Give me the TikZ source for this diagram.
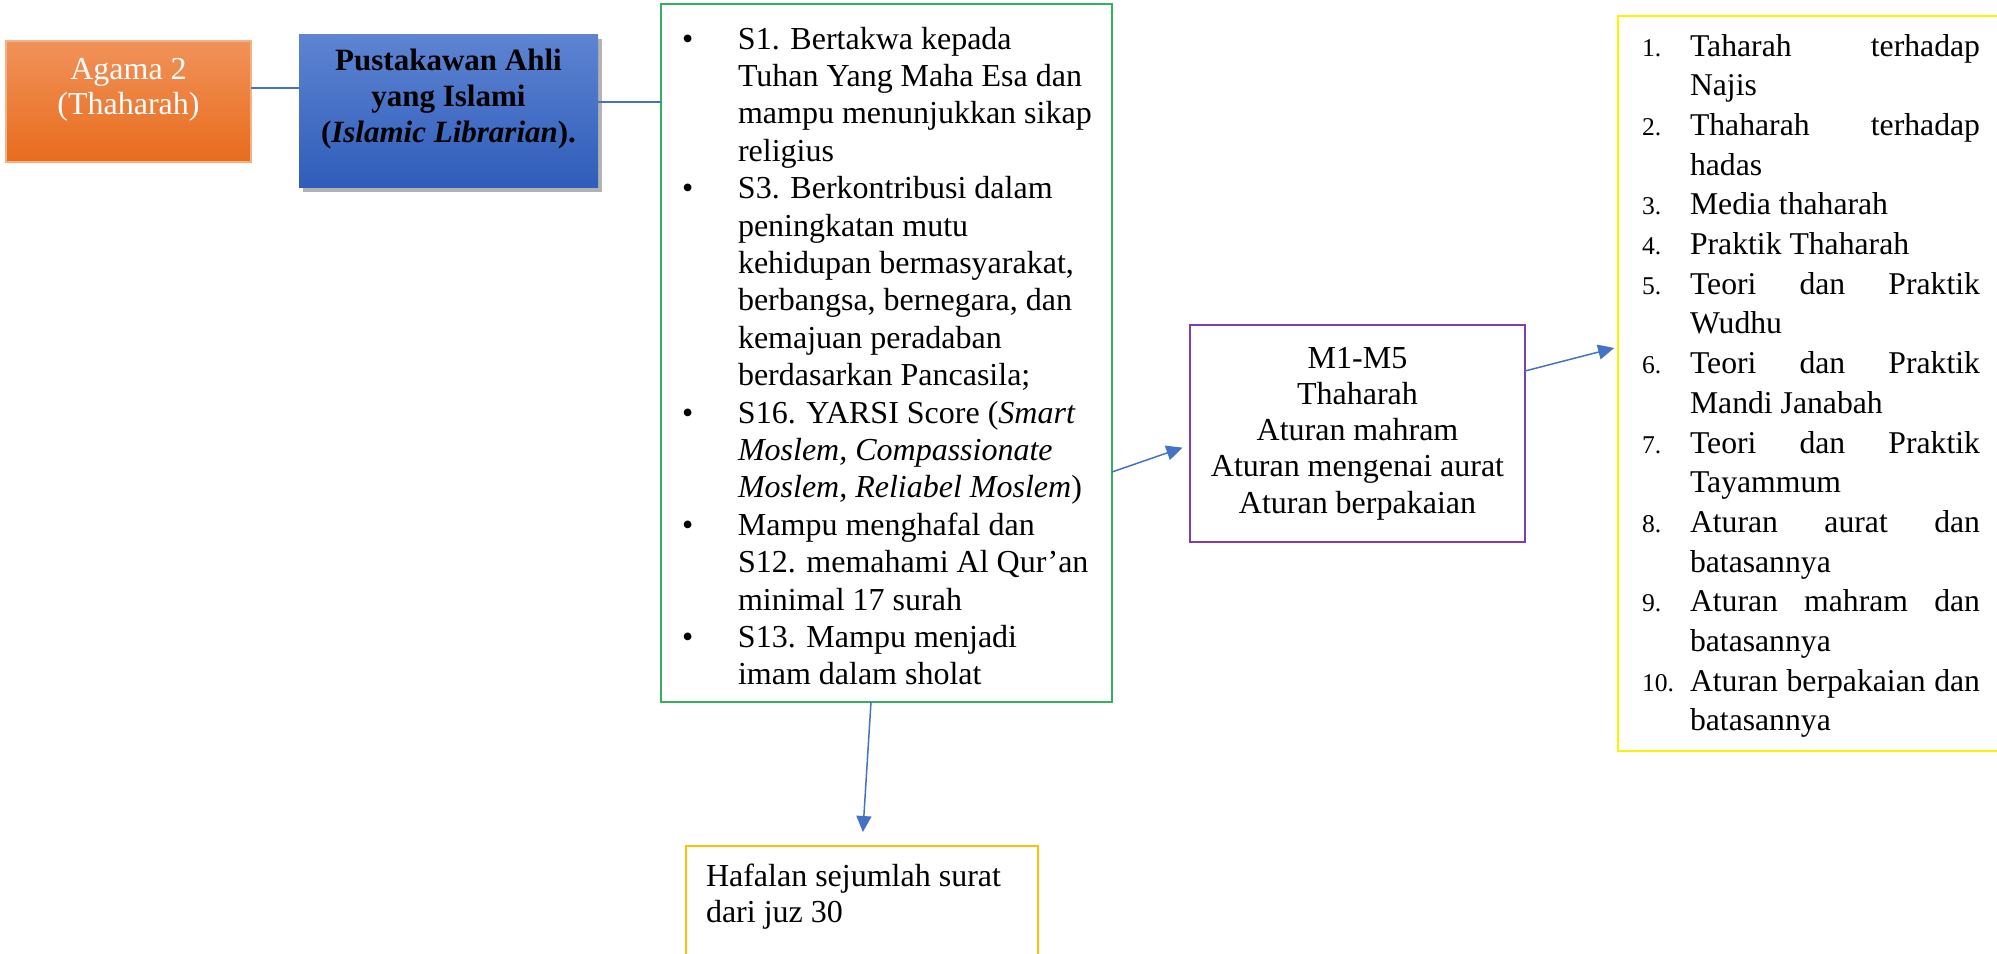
\documentclass[tikz,border=0pt]{standalone}
\usepackage{fontspec}
\setmainfont{Liberation Serif}
\usetikzlibrary{arrows.meta,shadows}
\definecolor{connblue}{HTML}{4472C4}
\definecolor{boxgreen}{HTML}{33B060}
\definecolor{boxpurple}{HTML}{7A3FB0}
\definecolor{boxyellow}{HTML}{FFF200}
\definecolor{boxgold}{HTML}{FFC000}
\definecolor{orangetop}{HTML}{F1925A}
\definecolor{orangebot}{HTML}{E86C1C}
\definecolor{orangeedge}{HTML}{F4B183}
\definecolor{bluetop}{HTML}{5E84D2}
\definecolor{bluebot}{HTML}{2F5DBA}
\newcommand{\jline}[1]{\makebox[145pt][s]{#1}}
\newcommand{\numf}{\fontsize{12.8}{19.85}\selectfont}
\newcommand{\bul}{\makebox[28pt][l]{\textbullet}}
\begin{document}
\begin{tikzpicture}[x=0.5pt,y=-0.5pt,
  box/.style={draw, line width=0.75pt, inner sep=0pt, outer sep=0pt},
  conn/.style={draw=connblue, line width=0.75pt},
  arr/.style={conn, -{Triangle[length=8pt,width=7.5pt]}},
  txt/.style={inner sep=0pt, outer sep=0pt}]
\useasboundingbox (0,0) rectangle (1997,953);
% boxes
\node[box, draw=orangeedge, top color=orangetop, bottom color=orangebot,
      minimum width=122.5pt, minimum height=60.5pt] (agama) at (128.5,101.5) {};
\node[txt, text=white, align=center, font=\fontsize{16}{17.5}\selectfont] (agamatext) at (128.5,90) {Agama 2\\(Thaharah)};
\node[box, draw=none, top color=bluetop, bottom color=bluebot,
      drop shadow={shadow xshift=2pt,shadow yshift=-2.5pt,fill=black,opacity=0.3},
      minimum width=149.5pt, minimum height=76.5pt] (pustakawan) at (448.5,110.5) {};
\node[txt, align=center, font=\fontsize{15.5}{18}\selectfont\bfseries] (pustext) at (448.5,99) {Pustakawan Ahli\\yang Islami\\(\textit{Islamic Librarian}).};
\node[box, draw=boxgreen, minimum width=225.5pt, minimum height=349pt] (green) at (886.5,353) {};
\node[txt, anchor=base west, font=\fontsize{16}{18.7}\selectfont] (greentext) at (682,49) {%
\begin{tabular}[t]{@{}l@{}l@{}}
\bul & S1. Bertakwa kepada\\
 & Tuhan Yang Maha Esa dan\\
 & mampu menunjukkan sikap\\
 & religius\\
\bul & S3. Berkontribusi dalam\\
 & peningkatan mutu\\
 & kehidupan bermasyarakat,\\
 & berbangsa, bernegara, dan\\
 & kemajuan peradaban\\
 & berdasarkan Pancasila;\\
\bul & S16. YARSI Score (\textit{Smart}\\
 & \textit{Moslem, Compassionate}\\
 & \textit{Moslem, Reliabel Moslem})\\
\bul & Mampu menghafal dan\\
 & S12. memahami Al Qur’an\\
 & minimal 17 surah\\
\bul & S13. Mampu menjadi\\
 & imam dalam sholat
\end{tabular}};
\node[box, draw=boxpurple, minimum width=167.5pt, minimum height=108.5pt, align=center,
      font=\fontsize{16}{18.15}\selectfont] (purple) at (1357.5,433.5)
  {M1-M5\\Thaharah\\Aturan mahram\\Aturan mengenai aurat\\Aturan berpakaian};
\node[box, draw=boxyellow, minimum width=196pt, minimum height=367.5pt] (yellow) at (1814,383.5) {};
\node[txt, anchor=base west, font=\fontsize{15.85}{19.85}\selectfont] (yellowtext) at (1642,56) {%
\begin{tabular}[t]{@{}l@{}l@{}}
\makebox[24pt][l]{\numf 1.} & \jline{Taharah terhadap}\\
 & Najis\\
\makebox[24pt][l]{\numf 2.} & \jline{Thaharah terhadap}\\
 & hadas\\
\makebox[24pt][l]{\numf 3.} & Media thaharah\\
\makebox[24pt][l]{\numf 4.} & Praktik Thaharah\\
\makebox[24pt][l]{\numf 5.} & \jline{Teori dan Praktik}\\
 & Wudhu\\
\makebox[24pt][l]{\numf 6.} & \jline{Teori dan Praktik}\\
 & Mandi Janabah\\
\makebox[24pt][l]{\numf 7.} & \jline{Teori dan Praktik}\\
 & Tayammum\\
\makebox[24pt][l]{\numf 8.} & \jline{Aturan aurat dan}\\
 & batasannya\\
\makebox[24pt][l]{\numf 9.} & \jline{Aturan mahram dan}\\
 & batasannya\\
\makebox[24pt][l]{\numf 10.} & \jline{Aturan berpakaian dan}\\
 & batasannya
\end{tabular}};
\node[box, draw=boxgold, minimum width=176pt, minimum height=62pt] (hafal) at (862,908) {};
\node[txt, anchor=base west, align=left, font=\fontsize{16}{18}\selectfont] (hafaltext) at (706,922) {Hafalan sejumlah surat\\dari juz 30};
% connectors
\draw[conn] (agama.east |- 0,88) -- (pustakawan.west |- 0,88);
\draw[conn] (pustakawan.east |- 0,102) -- (green.west |- 0,102);
\draw[arr, shorten >=4pt] (green.east |- 0,472) -- (purple.west |- 0,445);
\draw[arr, shorten >=2pt] (purple.east |- 0,371) -- (yellow.west |- 0,347);
\draw[arr, shorten >=7pt] (green.south -| 871,0) -- (hafal.north -| 862,0);
\end{tikzpicture}
\end{document}
